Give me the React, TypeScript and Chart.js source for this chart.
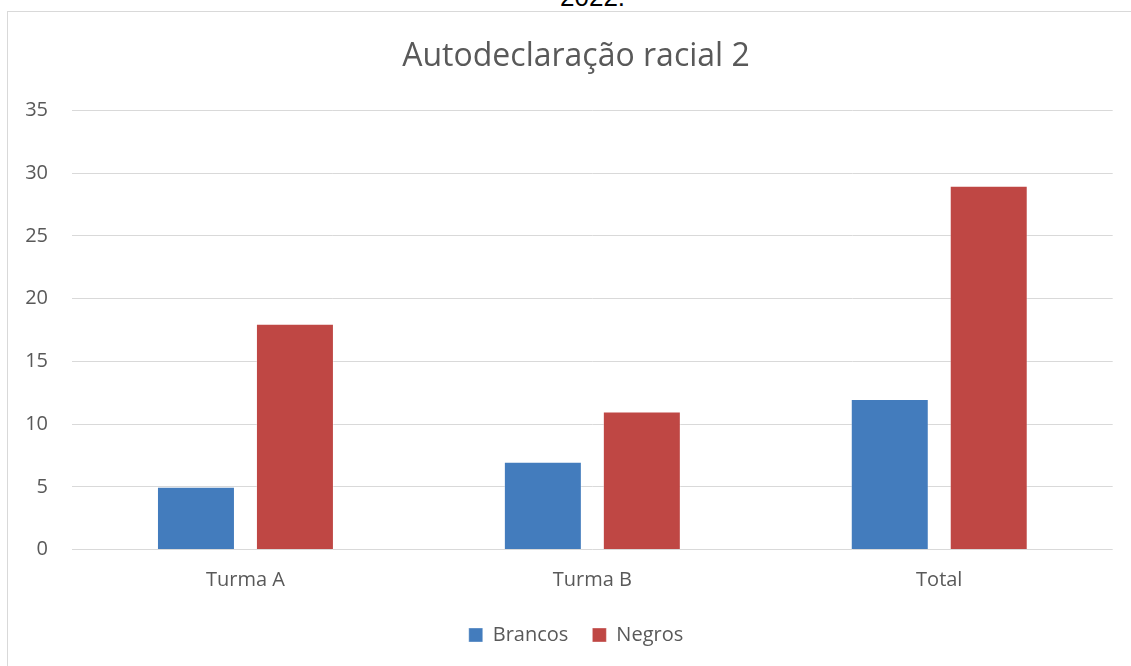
import React, { useEffect, useRef } from "react";
import { Chart, registerables } from "chart.js";

Chart.register(...registerables);

const categories = ["Turma A", "Turma B", "Total"];
const brancos = [5, 7, 12];
const negros = [18, 11, 29];
const yTicks = [0, 5, 10, 15, 20, 25, 30, 35];
const chartTitle = "Autodeclaração racial 2";
const captionTail = "2022.";

const FONT = "'Open Sans', 'Noto Sans', sans-serif";
const TEXT = "#595959";
const GRID = "#D9D9D9";

export default function App() {
  const canvasRef = useRef<HTMLCanvasElement | null>(null);

  useEffect(() => {
    document.body.style.margin = "0";
    const canvas = canvasRef.current;
    if (!canvas) return;
    const chart = new Chart(canvas, {
      type: "bar",
      data: {
        labels: categories,
        datasets: [
          {
            label: "Brancos",
            data: brancos,
            backgroundColor: "#437CBD",
            borderColor: "rgba(255,255,255,0.35)",
            borderWidth: 1,
            barPercentage: 0.788,
            categoryPercentage: 0.5706,
          },
          {
            label: "Negros",
            data: negros,
            backgroundColor: "#BF4744",
            borderColor: "rgba(255,255,255,0.35)",
            borderWidth: 1,
            barPercentage: 0.788,
            categoryPercentage: 0.5706,
          },
        ],
      },
      options: {
        responsive: false,
        animation: false,
        devicePixelRatio: 1,
        layout: { padding: { left: 0, right: 0, top: 0, bottom: 11 } },
        plugins: {
          title: {
            display: true,
            text: chartTitle,
            color: TEXT,
            font: { family: FONT, size: 32, weight: "normal", lineHeight: 1.2 },
            padding: { top: 26, bottom: 34 },
          },
          legend: {
            display: true,
            position: "bottom",
            labels: {
              color: TEXT,
              font: { family: FONT, size: 20 },
              boxWidth: 14,
              boxHeight: 14,
              padding: 24,
            },
          },
          tooltip: { enabled: false },
        },
        scales: {
          x: {
            grid: { display: false, drawTicks: false },
            border: { display: false },
            ticks: {
              color: TEXT,
              font: { family: FONT, size: 20 },
              padding: 19,
            },
            afterFit: (scale: any) => {
              scale.height = 51.4;
            },
          },
          y: {
            min: 0,
            max: 35,
            afterBuildTicks: (scale: any) => {
              scale.ticks = yTicks.map((v) => ({ value: v }));
            },
            grid: { color: GRID, lineWidth: 1, drawTicks: false },
            border: { display: false },
            ticks: {
              color: TEXT,
              font: { family: FONT, size: 20 },
              padding: 24,
            },
            afterFit: (scale: any) => {
              scale.width = 64;
            },
          },
          // empty right-hand margin inside the plot frame
          yRight: {
            type: "linear",
            position: "right",
            display: true,
            grid: { display: false, drawTicks: false },
            border: { display: false },
            ticks: { display: false },
            afterFit: (scale: any) => {
              scale.width = 31.3;
            },
          },
        },
      },
    });
    return () => chart.destroy();
  }, []);

  return (
    <div
      style={{
        position: "fixed",
        left: 0,
        top: 0,
        width: 1131,
        height: 666,
        overflow: "hidden",
        background: "#ffffff",
      }}
    >
      <div
        style={{
          position: "absolute",
          left: 560,
          top: -16,
          fontFamily: "'Liberation Sans', Arial, sans-serif",
          fontSize: 26,
          lineHeight: "26px",
          color: "#000",
          whiteSpace: "nowrap",
        }}
      >
        {captionTail}
      </div>
      <div
        style={{
          position: "absolute",
          left: 7,
          top: 11,
          width: 1200,
          height: 700,
          borderLeft: `1px solid ${GRID}`,
          borderTop: `1px solid ${GRID}`,
        }}
      />
      <canvas
        ref={canvasRef}
        width={1136}
        height={654}
        style={{ position: "absolute", left: 8, top: 12, width: 1136, height: 654 }}
      />
    </div>
  );
}
